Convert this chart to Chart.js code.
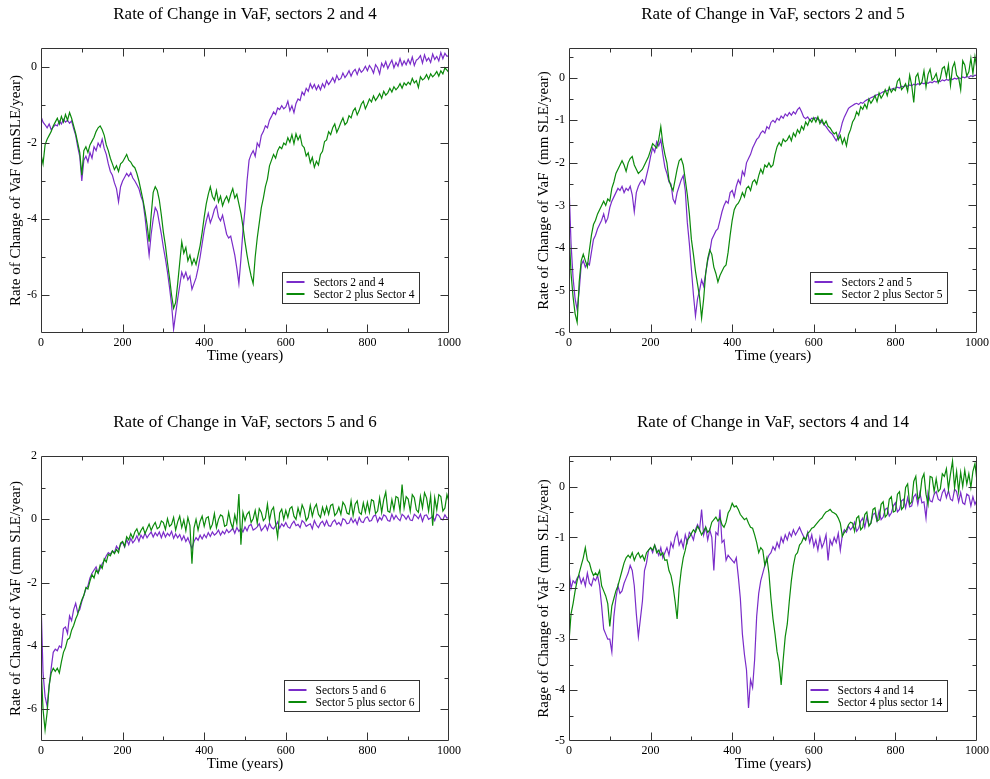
<!DOCTYPE html>
<html>
<head>
<meta charset="utf-8">
<script src="https://cdn.jsdelivr.net/npm/chart.js@4.4.0/dist/chart.umd.min.js"></script>
<style>
  body { margin: 0; background: #fff; width: 990px; height: 779px; position: relative; overflow: hidden; }
  canvas { position: absolute; }
</style>
</head>
<body>
<canvas id="c24" width="490" height="367" style="left:0;top:0"></canvas>
<canvas id="c25" width="490" height="367" style="left:528px;top:0"></canvas>
<canvas id="c56" width="490" height="367" style="left:0;top:408px"></canvas>
<canvas id="c414" width="490" height="367" style="left:528px;top:408px"></canvas>
<script>
// time axis, one sample every 5 years
const years = Array.from({ length: 201 }, (_, i) => i * 5);
const xTickLabels = [0, 200, 400, 600, 800, 1000];

// sectors 2 and 4
const s24Joint = [
  -1.30,-1.45,-1.52,-1.60,-1.50,-1.65,-1.58,-1.52,-1.55,-1.42,-1.50,-1.38,-1.45,-1.40,-1.48,-1.42,-1.62,-1.80,-2.10,-2.35,
  -3.00,-2.45,-2.35,-2.50,-2.25,-2.40,-2.10,-2.20,-2.00,-2.10,-1.90,-2.15,-2.30,-2.55,-2.75,-2.85,-3.05,-3.20,-3.55,-3.15,
  -3.00,-2.90,-2.80,-2.88,-2.78,-2.92,-3.00,-3.10,-3.20,-3.40,-3.55,-3.95,-4.45,-4.95,-4.40,-4.00,-3.70,-3.80,-4.10,-4.40,
  -4.75,-5.05,-5.40,-5.80,-6.25,-6.90,-6.50,-6.10,-5.75,-5.40,-5.55,-5.40,-5.60,-5.50,-5.85,-5.70,-5.55,-5.30,-5.00,-4.65,
  -4.30,-4.05,-3.85,-4.10,-3.95,-3.75,-3.65,-3.95,-4.05,-3.90,-4.15,-4.40,-4.50,-4.45,-4.70,-4.95,-5.30,-5.70,-5.05,-4.30,
  -3.75,-3.00,-2.45,-2.30,-2.20,-2.35,-2.00,-2.10,-1.80,-1.70,-1.55,-1.60,-1.40,-1.30,-1.18,-1.25,-1.08,-1.12,-1.02,-1.10,
  -1.05,-0.90,-1.15,-1.02,-1.20,-0.96,-0.84,-0.88,-0.66,-0.74,-0.56,-0.64,-0.44,-0.56,-0.46,-0.60,-0.48,-0.60,-0.44,-0.54,
  -0.36,-0.46,-0.38,-0.28,-0.40,-0.22,-0.34,-0.30,-0.16,-0.28,-0.20,-0.10,-0.24,-0.12,-0.06,-0.20,-0.04,-0.14,-0.08,0.02,
  -0.10,0.04,-0.04,-0.16,0.06,-0.02,-0.18,0.10,0.00,0.14,-0.04,0.08,0.18,-0.02,0.12,0.02,0.22,0.04,0.16,0.06,
  0.20,0.08,0.26,0.04,0.18,0.22,0.30,0.10,0.32,0.16,0.24,0.12,0.34,0.20,0.28,0.16,0.38,0.22,0.36,0.28,
  0.30
];
const s24Sum = [
  -2.30,-2.55,-2.05,-1.90,-1.80,-1.70,-1.55,-1.45,-1.35,-1.50,-1.30,-1.45,-1.25,-1.40,-1.20,-1.35,-1.55,-1.75,-2.00,-2.25,
  -2.85,-2.20,-2.10,-2.25,-2.05,-1.95,-1.85,-1.70,-1.60,-1.55,-1.65,-1.80,-2.05,-2.20,-2.40,-2.55,-2.70,-2.60,-2.75,-2.55,
  -2.50,-2.40,-2.30,-2.45,-2.50,-2.60,-2.65,-2.80,-3.00,-3.25,-3.50,-3.80,-4.15,-4.60,-3.90,-3.30,-3.15,-3.25,-3.50,-3.90,
  -4.35,-4.70,-5.15,-5.55,-6.00,-6.35,-6.20,-5.70,-5.15,-4.60,-4.90,-4.75,-5.10,-4.95,-5.20,-5.05,-5.20,-4.95,-4.70,-4.35,
  -3.95,-3.60,-3.35,-3.15,-3.40,-3.50,-3.25,-3.55,-3.40,-3.65,-3.50,-3.40,-3.55,-3.35,-3.20,-3.45,-3.35,-3.60,-3.85,-4.20,
  -4.60,-4.95,-5.25,-5.50,-5.70,-5.00,-4.50,-4.10,-3.70,-3.45,-3.15,-2.95,-2.60,-2.45,-2.30,-2.40,-2.20,-2.10,-2.15,-2.00,
  -2.05,-1.86,-1.98,-1.78,-2.02,-1.76,-1.92,-1.80,-2.06,-2.12,-2.34,-2.26,-2.52,-2.38,-2.64,-2.48,-2.58,-2.30,-2.22,-1.96,
  -1.92,-1.70,-1.78,-1.60,-1.50,-1.72,-1.60,-1.46,-1.34,-1.52,-1.46,-1.28,-1.34,-1.16,-1.08,-1.26,-1.14,-0.98,-0.90,-1.10,
  -0.98,-0.84,-0.92,-0.76,-0.88,-0.80,-0.70,-0.82,-0.64,-0.74,-0.68,-0.56,-0.66,-0.52,-0.60,-0.54,-0.44,-0.56,-0.42,-0.48,
  -0.40,-0.46,-0.30,-0.42,-0.36,-0.54,-0.26,-0.34,-0.30,-0.20,-0.32,-0.18,-0.26,-0.20,-0.12,-0.24,-0.10,-0.18,-0.02,-0.08,
  -0.15
];

// sectors 2 and 5
const s25Joint = [
  -2.50,-3.90,-4.70,-5.20,-5.45,-5.00,-4.40,-4.30,-4.45,-4.35,-4.40,-4.10,-3.80,-3.70,-3.55,-3.45,-3.35,-3.20,-3.40,-3.30,
  -3.05,-2.90,-2.80,-2.70,-2.60,-2.65,-2.55,-2.70,-2.60,-2.65,-2.55,-2.75,-3.15,-2.70,-2.55,-2.45,-2.40,-2.50,-2.30,-2.10,
  -1.85,-1.65,-1.75,-1.50,-1.60,-1.45,-1.80,-2.10,-2.25,-2.45,-2.50,-2.85,-2.95,-2.70,-2.55,-2.40,-2.30,-2.65,-3.40,-3.90,
  -4.50,-5.10,-5.60,-5.20,-5.00,-4.75,-4.90,-4.60,-4.30,-4.10,-3.80,-3.70,-3.60,-3.55,-3.35,-3.15,-3.00,-2.90,-2.95,-2.70,
  -2.65,-2.80,-2.55,-2.40,-2.50,-2.20,-2.30,-2.00,-1.90,-1.80,-1.65,-1.55,-1.45,-1.40,-1.30,-1.25,-1.30,-1.15,-1.20,-1.05,
  -1.00,-1.05,-0.95,-1.00,-0.90,-0.95,-0.85,-0.90,-0.82,-0.88,-0.80,-0.85,-0.75,-0.70,-0.80,-0.92,-0.96,-0.92,-1.00,-0.95,
  -0.96,-0.94,-0.98,-1.00,-1.05,-1.10,-1.15,-1.22,-1.28,-1.32,-1.40,-1.48,-1.38,-1.25,-1.05,-0.92,-0.82,-0.72,-0.68,-0.65,
  -0.62,-0.60,-0.63,-0.58,-0.60,-0.55,-0.52,-0.50,-0.47,-0.45,-0.42,-0.40,-0.38,-0.36,-0.33,-0.32,-0.30,-0.28,-0.27,-0.25,
  -0.24,-0.22,-0.24,-0.20,-0.22,-0.18,-0.20,-0.17,-0.19,-0.15,-0.17,-0.14,-0.16,-0.12,-0.14,-0.11,-0.13,-0.10,-0.12,-0.08,
  -0.10,-0.07,-0.09,-0.05,-0.07,-0.04,-0.06,-0.02,-0.04,-0.01,-0.03,0.00,-0.02,0.02,0.00,0.03,0.01,0.05,0.03,0.06,
  0.05
];
const s25Sum = [
  -3.60,-4.60,-5.15,-5.55,-5.75,-4.80,-4.30,-4.15,-4.30,-4.45,-4.05,-3.70,-3.45,-3.35,-3.20,-3.10,-3.00,-2.90,-3.00,-2.85,
  -2.90,-2.60,-2.45,-2.25,-2.15,-2.05,-1.95,-2.05,-2.20,-2.00,-1.90,-1.85,-2.05,-2.15,-2.25,-2.20,-2.15,-2.05,-1.95,-1.85,
  -1.70,-1.55,-1.60,-1.65,-1.45,-1.15,-1.55,-1.80,-2.00,-2.40,-2.55,-2.65,-2.40,-2.15,-1.95,-1.90,-2.05,-2.40,-2.75,-3.20,
  -3.80,-4.15,-4.55,-4.85,-5.15,-5.65,-5.20,-4.60,-4.25,-4.05,-4.15,-4.45,-4.60,-4.80,-4.65,-4.55,-4.45,-4.40,-4.10,-3.70,
  -3.35,-3.10,-3.00,-2.95,-2.85,-2.70,-2.80,-2.60,-2.55,-2.65,-2.45,-2.40,-2.50,-2.30,-2.15,-2.25,-2.05,-2.10,-2.00,-2.10,
  -2.05,-1.80,-1.62,-1.52,-1.60,-1.44,-1.50,-1.46,-1.36,-1.48,-1.30,-1.38,-1.22,-1.30,-1.14,-1.22,-1.04,-1.12,-0.98,-1.04,
  -0.94,-1.04,-0.92,-1.08,-0.98,-1.10,-1.02,-1.14,-1.18,-1.26,-1.32,-1.28,-1.46,-1.36,-1.55,-1.42,-1.60,-1.34,-1.22,-1.04,
  -0.96,-0.80,-0.88,-0.68,-0.74,-0.62,-0.72,-0.50,-0.60,-0.52,-0.42,-0.56,-0.36,-0.48,-0.40,-0.28,-0.42,-0.22,-0.34,-0.26,
  -0.30,-0.08,-0.02,-0.28,-0.22,-0.14,-0.32,0.06,-0.18,-0.58,0.02,0.10,-0.16,-0.10,0.16,-0.22,0.08,0.20,-0.06,0.00,
  0.10,-0.12,-0.02,0.22,0.26,0.02,0.30,-0.18,0.24,0.36,0.06,0.00,-0.28,0.40,0.30,0.04,0.14,0.46,0.10,0.50,
  0.20
];

// sectors 5 and 6
const s56Joint = [
  -2.55,-4.85,-5.60,-5.90,-5.25,-4.70,-4.20,-4.10,-4.15,-4.00,-4.05,-3.45,-3.40,-3.60,-3.05,-3.20,-2.85,-2.65,-2.95,-2.85,
  -2.60,-2.40,-2.20,-2.10,-1.85,-1.70,-1.60,-1.50,-1.70,-1.55,-1.40,-1.30,-1.15,-1.05,-1.10,-1.00,-1.05,-0.85,-0.95,-0.80,
  -0.72,-0.88,-0.64,-0.80,-0.60,-0.74,-0.66,-0.52,-0.70,-0.50,-0.60,-0.44,-0.58,-0.48,-0.40,-0.56,-0.42,-0.52,-0.40,-0.58,
  -0.40,-0.56,-0.44,-0.52,-0.38,-0.60,-0.46,-0.58,-0.48,-0.66,-0.52,-0.70,-0.58,-0.76,-0.92,-0.70,-0.58,-0.66,-0.50,-0.62,
  -0.48,-0.58,-0.42,-0.54,-0.40,-0.50,-0.44,-0.34,-0.50,-0.38,-0.46,-0.32,-0.42,-0.36,-0.28,-0.44,-0.26,-0.38,-0.30,-0.40,
  -0.24,-0.36,-0.20,-0.16,-0.34,-0.30,-0.24,-0.14,-0.36,-0.28,-0.18,-0.34,-0.12,-0.26,-0.30,-0.20,-0.08,-0.28,-0.14,-0.22,
  -0.10,-0.24,-0.28,-0.14,-0.06,-0.20,-0.16,-0.26,-0.04,-0.10,-0.22,-0.18,-0.14,-0.30,-0.04,-0.18,-0.26,-0.12,-0.06,-0.20,
  -0.04,-0.20,-0.22,-0.08,-0.02,-0.16,-0.10,-0.20,0.02,-0.02,-0.14,-0.12,0.04,-0.10,0.00,-0.16,0.06,-0.08,-0.10,0.04,
  0.08,-0.06,-0.04,0.10,0.14,-0.08,0.06,-0.02,0.14,0.10,-0.04,-0.06,0.16,0.00,0.12,0.02,-0.04,0.16,0.10,0.00,
  0.12,-0.02,-0.04,0.16,0.10,0.02,0.16,-0.06,0.12,0.14,0.00,0.04,0.10,-0.04,0.16,0.12,0.02,-0.02,0.14,0.04,
  0.05
];
const s56Sum = [
  -4.60,-6.00,-6.65,-6.10,-5.25,-4.85,-4.70,-4.80,-4.70,-4.85,-4.50,-4.20,-4.05,-3.80,-3.75,-3.50,-3.35,-3.15,-3.00,-2.75,
  -2.55,-2.40,-2.15,-2.20,-1.95,-1.75,-1.85,-1.60,-1.70,-1.45,-1.55,-1.25,-1.35,-1.10,-1.15,-1.00,-1.08,-0.95,-1.05,-0.75,
  -0.70,-0.85,-0.55,-0.65,-0.45,-0.60,-0.40,-0.30,-0.50,-0.35,-0.25,-0.45,-0.30,-0.15,-0.35,-0.20,-0.10,-0.30,-0.25,-0.05,
  -0.10,-0.32,0.02,-0.22,-0.16,0.06,-0.34,-0.08,0.10,-0.26,-0.02,-0.36,0.06,-0.20,-1.40,-0.28,0.00,-0.34,-0.06,0.10,
  -0.22,0.04,0.08,-0.30,-0.16,0.18,-0.26,0.00,0.14,0.10,-0.22,-0.18,0.22,-0.10,-0.28,0.14,-0.14,0.80,-0.80,0.22,
  -0.04,0.16,0.24,-0.10,0.02,0.28,-0.12,0.34,0.22,-0.04,0.04,0.48,-0.04,0.28,0.38,-0.12,-0.55,0.20,0.32,0.00,
  0.28,0.06,0.34,0.40,0.10,0.00,0.36,0.12,0.46,0.30,-0.04,0.06,0.44,0.10,0.36,0.48,0.16,0.06,0.38,0.16,
  0.40,0.16,0.44,0.48,0.12,0.20,0.38,0.16,0.54,0.44,0.20,0.16,0.58,0.12,0.48,0.58,0.22,0.16,0.52,0.22,
  0.54,0.22,0.62,0.58,0.18,0.26,0.68,0.22,0.62,0.86,0.26,0.22,0.62,0.30,0.72,0.68,0.26,1.10,0.36,0.72,
  0.64,0.26,0.78,0.68,0.30,0.22,0.72,0.36,0.84,0.68,0.26,0.74,-0.20,0.68,0.30,0.78,0.72,0.26,0.36,0.78,
  0.55
];

// sectors 4 and 14
const s414Joint = [
  -1.65,-2.00,-1.85,-1.90,-1.80,-1.75,-1.90,-1.80,-1.95,-1.70,-1.90,-1.95,-1.80,-1.85,-1.75,-1.95,-2.35,-2.80,-2.90,-3.00,
  -3.00,-3.25,-2.55,-2.20,-1.95,-2.10,-2.05,-1.90,-1.80,-1.70,-1.55,-1.65,-1.95,-2.50,-2.95,-2.60,-2.25,-1.65,-1.50,-1.25,
  -1.20,-1.30,-1.15,-1.25,-1.35,-1.20,-1.40,-1.30,-1.20,-1.35,-1.10,-1.20,-1.00,-0.90,-1.15,-1.05,-1.20,-0.95,-1.10,-0.90,
  -0.95,-1.05,-0.85,-0.75,-0.85,-0.45,-0.95,-0.80,-1.05,-0.85,-1.00,-1.65,-0.90,-0.95,-0.45,-1.10,-1.05,-1.45,-1.35,-1.40,
  -1.45,-1.50,-1.40,-1.77,-2.20,-2.90,-3.30,-3.60,-4.35,-3.80,-3.95,-3.40,-2.55,-2.10,-1.85,-1.70,-1.55,-1.45,-1.35,-1.30,
  -1.18,-1.25,-1.10,-1.20,-1.00,-1.10,-0.95,-1.05,-0.90,-0.98,-0.85,-0.95,-0.88,-0.80,-0.90,-0.98,-1.05,-0.90,-1.10,-0.95,
  -1.18,-1.05,-1.25,-1.00,-1.20,-1.10,-0.95,-1.45,-1.05,-1.15,-1.00,-1.10,-0.92,-1.25,-0.95,-0.85,-0.90,-0.78,-0.85,-0.80,
  -0.70,-0.88,-0.82,-0.68,-0.62,-0.80,-0.60,-0.75,-0.72,-0.55,-0.52,-0.68,-0.48,-0.65,-0.60,-0.45,-0.42,-0.58,-0.52,-0.38,
  -0.32,-0.50,-0.45,-0.28,-0.25,-0.42,-0.22,-0.40,-0.38,-0.20,-0.15,-0.35,-0.12,-0.32,-0.30,-0.62,-0.12,-0.28,-0.30,-0.15,
  -0.10,-0.25,-0.28,-0.12,-0.05,-0.22,-0.08,-0.25,-0.28,-0.05,-0.10,-0.30,-0.12,-0.32,-0.35,-0.15,-0.18,-0.38,-0.20,-0.35,
  -0.26
];
const s414Sum = [
  -3.05,-2.50,-2.30,-2.05,-1.85,-1.70,-1.55,-1.40,-1.20,-1.45,-1.50,-1.65,-1.75,-1.70,-1.75,-1.65,-1.95,-2.05,-2.15,-2.30,
  -2.75,-2.35,-2.20,-2.05,-1.95,-1.80,-1.65,-1.50,-1.40,-1.35,-1.40,-1.30,-1.45,-1.35,-1.30,-1.40,-1.35,-1.45,-1.30,-1.25,
  -1.20,-1.25,-1.15,-1.30,-1.25,-1.35,-1.30,-1.45,-1.44,-1.65,-1.75,-1.96,-2.25,-2.60,-2.00,-1.65,-1.40,-1.25,-1.05,-1.00,
  -0.92,-0.85,-0.90,-0.78,-0.85,-0.95,-0.88,-0.80,-0.90,-0.85,-0.70,-0.65,-0.60,-0.68,-0.62,-0.75,-0.80,-0.70,-0.52,-0.45,
  -0.33,-0.40,-0.38,-0.45,-0.55,-0.60,-0.65,-0.62,-0.72,-0.80,-0.82,-0.95,-1.10,-1.30,-1.20,-1.25,-1.55,-1.40,-1.70,-2.20,
  -2.60,-2.90,-3.25,-3.45,-3.90,-3.40,-2.95,-2.70,-2.25,-1.85,-1.55,-1.35,-1.30,-1.15,-1.10,-1.00,-1.05,-0.92,-0.88,-0.82,
  -0.80,-0.75,-0.70,-0.65,-0.62,-0.55,-0.50,-0.48,-0.45,-0.50,-0.52,-0.55,-0.62,-0.72,-0.98,-0.90,-0.85,-0.75,-0.70,-0.72,
  -0.88,-0.62,-0.58,-0.85,-0.80,-0.55,-0.50,-0.78,-0.72,-0.45,-0.42,-0.68,-0.65,-0.35,-0.30,-0.60,-0.55,-0.25,-0.20,-0.50,
  -0.48,-0.15,-0.10,-0.45,-0.40,-0.02,0.05,-0.35,-0.30,0.10,0.20,-0.25,-0.20,0.15,0.25,-0.15,-0.35,0.20,0.18,-0.10,
  0.15,-0.10,-0.05,0.25,0.20,0.35,-0.05,0.25,0.50,-0.02,0.30,-0.10,0.28,0.00,0.32,0.05,0.25,-0.02,0.30,0.45,
  0.10
];

const purple = '#7a2cc9';
const green = '#0b8a0b';
const serif = "'Liberation Serif', 'DejaVu Serif', serif";
Chart.defaults.font.family = serif;
Chart.defaults.color = '#000';

// box, inward ticks on all four sides, and the boxed legend (xmgrace look)
const framePlugin = {
  id: 'frame',
  afterDatasetsDraw(chart, args, opts) {
    const ctx = chart.ctx;
    const a = chart.chartArea;
    const xs = chart.scales.x, ys = chart.scales.y;
    const L = Math.round(a.left) + 0.5, R = Math.round(a.right) - 0.5;
    const T = Math.round(a.top) + 0.5, B = Math.round(a.bottom) - 0.5;
    ctx.save();
    ctx.strokeStyle = '#333';
    ctx.lineWidth = 1;
    ctx.beginPath();
    ctx.rect(L, T, R - L, B - T);
    for (let v = 100; v < 1000; v += 100) {
      const px = Math.round(xs.getPixelForValue(v)) + 0.5;
      const len = v % 200 === 0 ? 8 : 4;
      ctx.moveTo(px, B); ctx.lineTo(px, B - len);
      ctx.moveTo(px, T); ctx.lineTo(px, T + len);
    }
    for (let v = Math.ceil(ys.min / opts.minor) * opts.minor; v <= ys.max + 1e-9; v += opts.minor) {
      const py = Math.round(ys.getPixelForValue(v)) + 0.5;
      if (py <= T + 1 || py >= B - 1) continue;
      const r = v / opts.major;
      const len = Math.abs(r - Math.round(r)) < 1e-6 ? 8 : 4;
      ctx.moveTo(L, py); ctx.lineTo(L + len, py);
      ctx.moveTo(R, py); ctx.lineTo(R - len, py);
    }
    ctx.stroke();

    // legend
    ctx.font = '11.5px ' + serif;
    const sets = chart.data.datasets;
    const tw = Math.max(...sets.map(d => ctx.measureText(d.label).width));
    const w = Math.round(31 + tw + 5), h = 31;
    const x0 = Math.round(a.right - 30 - w) + 0.5;
    const y0 = Math.round(a.bottom - 30 - h) + 0.5;
    ctx.fillStyle = '#fff';
    ctx.fillRect(x0, y0, w, h);
    ctx.strokeRect(x0, y0, w, h);
    sets.forEach((d, i) => {
      const ly = Math.round(y0 + 9 + i * 12);
      ctx.strokeStyle = d.borderColor;
      ctx.lineWidth = 2;
      ctx.beginPath();
      ctx.moveTo(x0 + 4, ly); ctx.lineTo(x0 + 22, ly);
      ctx.stroke();
      ctx.fillStyle = '#000';
      ctx.textBaseline = 'middle';
      ctx.textAlign = 'left';
      ctx.fillText(d.label, x0 + 31, ly + 0.5);
    });
    ctx.restore();
  }
};

function pts(vals) {
  return vals.map((v, i) => ({ x: years[i], y: v }));
}

function makeChart(id, cfg) {
  return new Chart(document.getElementById(id), {
    type: 'line',
    data: {
      datasets: [
        { label: cfg.labels[0], data: pts(cfg.joint), borderColor: purple, order: 1 },
        { label: cfg.labels[1], data: pts(cfg.sum), borderColor: green, order: 0 }
      ]
    },
    options: {
      responsive: false,
      animation: false,
      events: [],
      layout: { padding: 0 },
      elements: { point: { radius: 0 }, line: { borderWidth: 1.2, tension: 0 } },
      plugins: {
        legend: { display: false },
        tooltip: { enabled: false },
        title: {
          display: true, text: cfg.title, color: '#000',
          font: { size: 17, weight: 'normal' },
          padding: { top: 4, bottom: 23.6 }
        },
        frame: { minor: cfg.yMinor, major: cfg.yMajor }
      },
      scales: {
        x: {
          type: 'linear', min: 0, max: 1000,
          grid: { display: false, drawTicks: false },
          border: { display: false },
          ticks: { stepSize: 200, padding: 3, maxRotation: 0, color: '#000', font: { size: 12 },
                   callback: v => xTickLabels.includes(v) ? String(v) : '' },
          title: { display: true, text: 'Time (years)', color: '#000', font: { size: 15 }, padding: { top: 0, bottom: 2 } },
          afterFit: s => { s.height = 34; }
        },
        y: {
          type: 'linear', min: cfg.yMin, max: cfg.yMax,
          grid: { display: false, drawTicks: false },
          border: { display: false },
          ticks: { stepSize: cfg.yMajor, includeBounds: false, padding: 4, color: '#000', font: { size: 12 } },
          title: { display: true, text: cfg.yTitle, color: '#000', font: { size: 15 }, padding: { top: 7, bottom: 0 } },
          afterFit: s => { s.width = 41; }
        },
        y2: {
          type: 'linear', position: 'right',
          grid: { display: false, drawTicks: false },
          border: { display: false },
          ticks: { display: false },
          afterFit: s => { s.width = 41; }
        }
      }
    },
    plugins: [framePlugin]
  });
}

makeChart('c24', {
  title: 'Rate of Change in VaF, sectors 2 and 4',
  yTitle: 'Rate of Change of VaF (mmSLE/year)',
  labels: ['Sectors 2 and 4', 'Sector 2 plus Sector 4'],
  joint: s24Joint, sum: s24Sum,
  yMin: -7, yMax: 0.5, yMajor: 2, yMinor: 1
});

makeChart('c25', {
  title: 'Rate of Change in VaF, sectors 2 and 5',
  yTitle: 'Rate of Change of VaF  (mm SLE/year)',
  labels: ['Sectors 2 and 5', 'Sector 2 plus Sector 5'],
  joint: s25Joint, sum: s25Sum,
  yMin: -6, yMax: 0.7, yMajor: 1, yMinor: 0.5
});

makeChart('c56', {
  title: 'Rate of Change in VaF, sectors 5 and 6',
  yTitle: 'Rate of Change of VaF (mm SLE/year)',
  labels: ['Sectors 5 and 6', 'Sector 5 plus sector 6'],
  joint: s56Joint, sum: s56Sum,
  yMin: -7, yMax: 2, yMajor: 2, yMinor: 1
});

makeChart('c414', {
  title: 'Rate of Change in VaF, sectors 4 and 14',
  yTitle: 'Rage of Change of VaF (mm SLE/year)',
  labels: ['Sectors 4 and 14', 'Sector 4 plus sector 14'],
  joint: s414Joint, sum: s414Sum,
  yMin: -5, yMax: 0.6, yMajor: 1, yMinor: 0.5
});
</script>
</body>
</html>
